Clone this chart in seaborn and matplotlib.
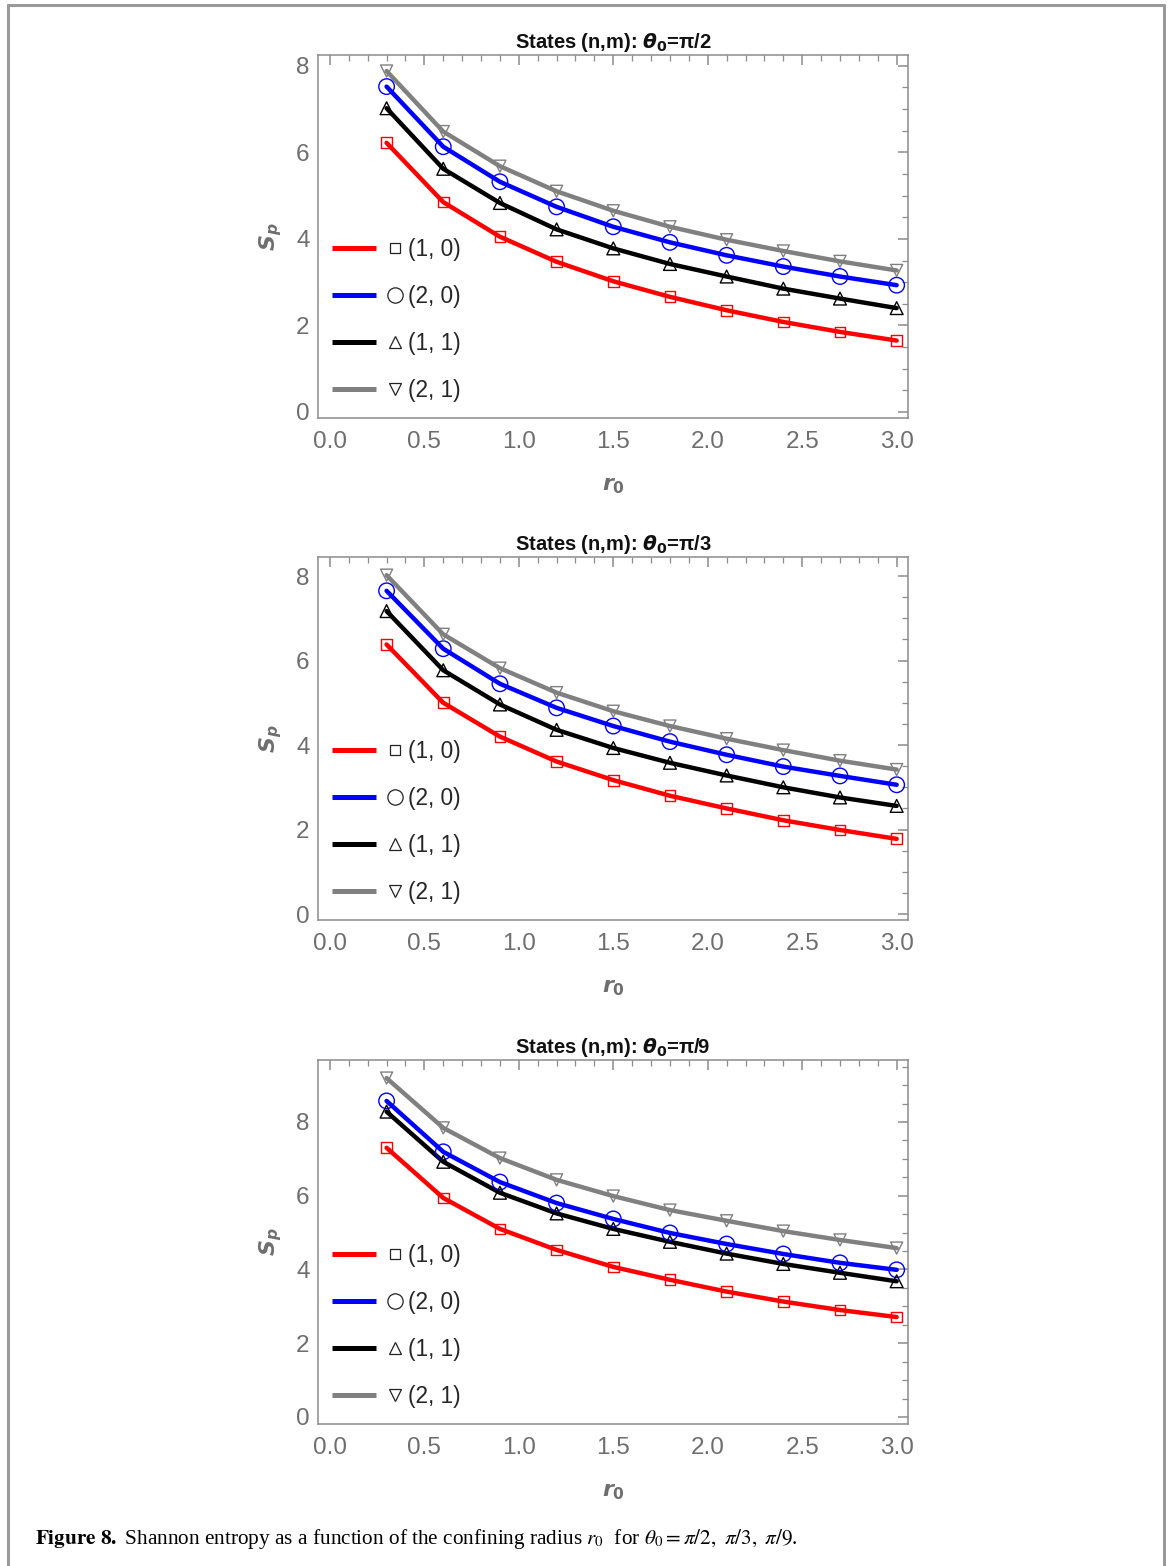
import numpy as np
import pandas as pd
import matplotlib
matplotlib.use("Agg")
import matplotlib.pyplot as plt
import seaborn as sns
from matplotlib.lines import Line2D
from matplotlib.legend_handler import HandlerBase
from matplotlib.ticker import MultipleLocator, FormatStrFormatter

# ---------------- data ----------------
r0 = [0.3, 0.6, 0.9, 1.2, 1.5, 1.8, 2.1, 2.4, 2.7, 3.0]
states = ["(1, 0)", "(2, 0)", "(1, 1)", "(2, 1)"]
panel_titles = ["States (n,m): $\\theta_0$=\u03c0/2",
                "States (n,m): $\\theta_0$=\u03c0/3",
                "States (n,m): $\\theta_0$=\u03c0/9"]

# theta0 = pi/2
sp_a_10 = [6.22, 4.85, 4.05, 3.47, 3.02, 2.66, 2.35, 2.08, 1.85, 1.65]
sp_a_20 = [7.52, 6.13, 5.32, 4.74, 4.28, 3.92, 3.62, 3.36, 3.13, 2.93]
sp_a_11 = [7.02, 5.62, 4.83, 4.22, 3.78, 3.42, 3.13, 2.85, 2.62, 2.40]
sp_a_21 = [7.88, 6.48, 5.68, 5.10, 4.65, 4.28, 3.98, 3.72, 3.48, 3.27]
# theta0 = pi/3
sp_b_10 = [6.38, 5.00, 4.20, 3.61, 3.17, 2.80, 2.50, 2.22, 1.99, 1.78]
sp_b_20 = [7.65, 6.28, 5.45, 4.88, 4.45, 4.08, 3.77, 3.49, 3.27, 3.06]
sp_b_11 = [7.17, 5.77, 4.96, 4.36, 3.93, 3.58, 3.28, 3.00, 2.76, 2.56]
sp_b_21 = [8.02, 6.62, 5.82, 5.24, 4.80, 4.45, 4.15, 3.88, 3.63, 3.42]
# theta0 = pi/9
sp_c_10 = [7.30, 5.94, 5.10, 4.53, 4.07, 3.72, 3.40, 3.13, 2.90, 2.71]
sp_c_20 = [8.57, 7.19, 6.37, 5.80, 5.37, 4.99, 4.69, 4.42, 4.18, 3.99]
sp_c_11 = [8.28, 6.92, 6.08, 5.52, 5.10, 4.75, 4.43, 4.15, 3.91, 3.68]
sp_c_21 = [9.19, 7.84, 7.02, 6.43, 5.99, 5.61, 5.32, 5.04, 4.80, 4.58]

panels = [
    [sp_a_10, sp_a_20, sp_a_11, sp_a_21],
    [sp_b_10, sp_b_20, sp_b_11, sp_b_21],
    [sp_c_10, sp_c_20, sp_c_11, sp_c_21],
]
ylims = [(-0.14, 8.25), (-0.14, 8.45), (-0.19, 9.68)]

colors = ["#ff0000", "#0000ff", "#000000", "#808080"]
markers = ["s", "o", "^", "v"]
marker_sizes = [60, 125, 85, 75]
legend_marker_ms = [7.0, 11.0, 9.0, 9.0]

# ---------------- style ----------------
sns.set_style("white")
plt.rcParams["font.family"] = ["Liberation Sans", "DejaVu Sans"]
plt.rcParams["mathtext.fontset"] = "custom"
plt.rcParams["mathtext.it"] = "DejaVu Sans:italic:bold"
plt.rcParams["mathtext.rm"] = "DejaVu Sans:bold"
plt.rcParams["mathtext.bf"] = "DejaVu Sans:bold"
frame_gray = "#8c8c8c"
tick_gray = "#6e6e6e"


class LegendKey:
    def __init__(self, color, marker, ms):
        self.color = color
        self.marker = marker
        self.ms = ms


class LineMarkerHandler(HandlerBase):
    def create_artists(self, legend, orig_handle, xdescent, ydescent,
                       width, height, fontsize, trans):
        yc = height / 2 - ydescent
        line = Line2D([-xdescent, -xdescent + width * 0.63], [yc, yc],
                      color=orig_handle.color, lw=3.6, solid_capstyle="butt",
                      transform=trans)
        mk = Line2D([-xdescent + width * 0.9], [yc], marker=orig_handle.marker,
                    ms=orig_handle.ms, mfc="none", mec="#222222", mew=0.9,
                    linestyle="none", transform=trans)
        return [line, mk]


fig = plt.figure(figsize=(11.7, 15.66), dpi=100)

left, width = 318 / 1170, 590 / 1170
tops = [55, 557, 1060]
bots = [418, 920, 1424]

for i, vals in enumerate(panels):
    b = 1 - bots[i] / 1566
    h = (bots[i] - tops[i]) / 1566
    ax = fig.add_axes([left, b, width, h])
    df = pd.DataFrame({
        "r0": np.tile(r0, len(states)),
        "Sp": np.concatenate(vals),
        "state": np.repeat(states, len(r0)),
    })
    sns.lineplot(data=df, x="r0", y="Sp", hue="state", hue_order=states,
                 palette=colors, linewidth=3.2, legend=False, ax=ax, zorder=2)
    for s, c, m, ms in zip(states, colors, markers, marker_sizes):
        sub = df[df["state"] == s]
        sns.scatterplot(data=sub, x="r0", y="Sp", marker=m, s=ms,
                        facecolor="none", edgecolor=c, color=c,
                        linewidth=1.0, legend=False, ax=ax, zorder=3)

    ax.set_xlim(-0.063, 3.06)
    ax.set_ylim(*ylims[i])
    ax.xaxis.set_major_locator(MultipleLocator(0.5))
    ax.xaxis.set_minor_locator(MultipleLocator(0.1))
    ax.yaxis.set_major_locator(MultipleLocator(2))
    ax.yaxis.set_minor_locator(MultipleLocator(0.5))
    ax.xaxis.set_major_formatter(FormatStrFormatter("%.1f"))
    ax.yaxis.set_major_formatter(FormatStrFormatter("%d"))
    ax.tick_params(which="both", direction="in", top=True, right=True,
                   color=frame_gray, labelcolor=tick_gray, labelsize=17.5)
    ax.tick_params(which="major", length=7, width=1.1)
    ax.tick_params(axis="x", which="major", pad=9)
    ax.tick_params(axis="y", which="major", pad=6)
    ax.tick_params(which="minor", length=4, width=0.9)
    for sp in ax.spines.values():
        sp.set_color(frame_gray)
        sp.set_linewidth(1.1)

    ax.set_xlabel(r"$r_0$", fontsize=16, color=tick_gray, labelpad=16)
    ax.set_ylabel(r"$S_p$", fontsize=16, color=tick_gray, labelpad=9)
    ax.set_title(panel_titles[i], fontsize=14.5, fontweight="bold",
                 color="#111111", pad=5)

    keys = [LegendKey(c, m, ms) for c, m, ms in zip(colors, markers, legend_marker_ms)]
    ax.legend(keys, states, handler_map={LegendKey: LineMarkerHandler()},
              loc="lower left", bbox_to_anchor=(0.009, 0.02),
              frameon=False, fontsize=16.3, handlelength=3.05, handletextpad=0.3,
              labelspacing=1.05, borderaxespad=0.0, borderpad=0.4)

# figure border (left, top, right)
border_kw = dict(color="#9a9a9a", lw=2.2, transform=fig.transFigure)
x0, x1, y1 = 7.5 / 1170, 1164 / 1170, 1 - 5 / 1566
fig.add_artist(Line2D([x0, x0], [0, y1], **border_kw))
fig.add_artist(Line2D([x1, x1], [0, y1], **border_kw))
fig.add_artist(Line2D([x0, x1], [y1, y1], **border_kw))

# caption
fig.text(35 / 1170, 1 - 1539 / 1566,
         r"$\mathbf{Figure\ 8.}$ Shannon entropy as a function of the confining radius $r_0$  for $\theta_0=\pi/2,\ \pi/3,\ \pi/9$.",
         family="Liberation Serif", math_fontfamily="stix", fontsize=15.3,
         va="center", ha="left", color="black")

fig.savefig("out.png", dpi=100)
